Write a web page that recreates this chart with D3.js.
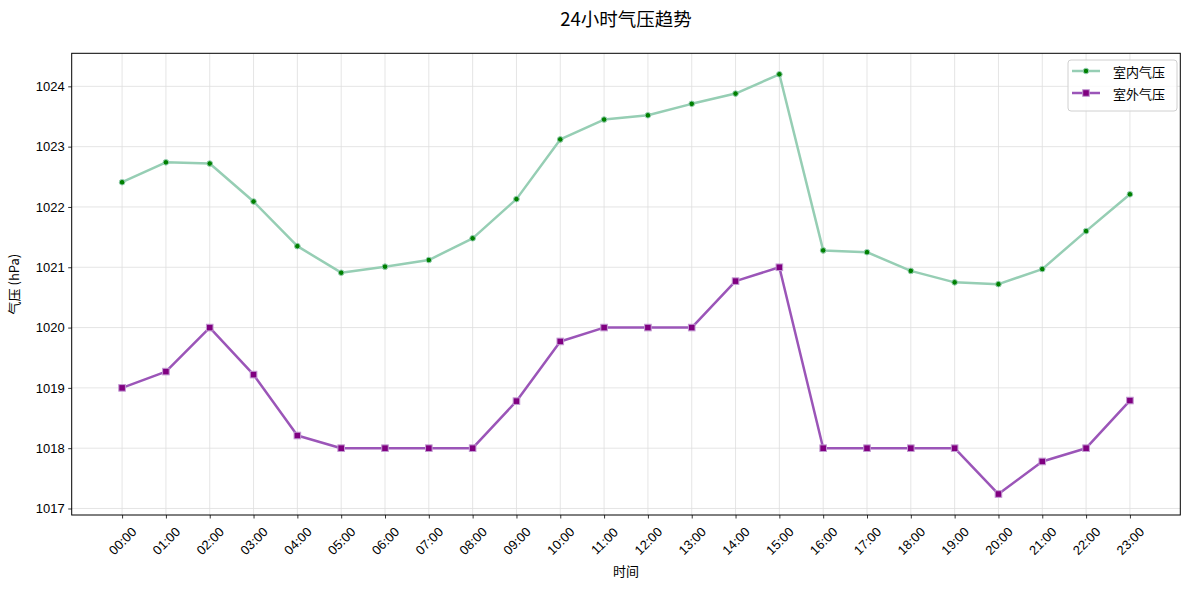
<!DOCTYPE html>
<html><head><meta charset="utf-8">
<script src="https://cdn.jsdelivr.net/npm/d3@7"></script>
<style>
body{margin:0;background:#fff;}
svg{display:block;font-family:"Noto Sans CJK SC","Noto Sans",sans-serif;}
</style></head>
<body><svg id="c" width="1189" height="590"></svg>
<script>
const hours = ["00:00","01:00","02:00","03:00","04:00","05:00","06:00","07:00","08:00","09:00","10:00","11:00","12:00","13:00","14:00","15:00","16:00","17:00","18:00","19:00","20:00","21:00","22:00","23:00"];
const indoor = [1022.41,1022.74,1022.72,1022.09,1021.35,1020.91,1021.01,1021.12,1021.48,1022.13,1023.12,1023.45,1023.52,1023.71,1023.88,1024.20,1021.28,1021.25,1020.94,1020.75,1020.72,1020.97,1021.60,1022.21];
const outdoor = [1019.00,1019.27,1020.00,1019.22,1018.21,1018.00,1018.00,1018.00,1018.00,1018.78,1019.77,1020.00,1020.00,1020.00,1020.77,1021.00,1018.00,1018.00,1018.00,1018.00,1017.24,1017.78,1018.00,1018.79];
const yTicks = [1017,1018,1019,1020,1021,1022,1023,1024];
const seriesNames = ["室内气压","室外气压"];
const title = "24小时气压趋势";
const xLabel = "时间";
const yLabel = "气压 (hPa)";

const svg = d3.select("#c");
const L = 71.7, R = 1180.3, T = 53.3, B = 515;
const n = hours.length;
const x = d3.scaleLinear().domain([-0.05*(n-1), (n-1)*1.05]).range([L, R]);
const all = indoor.concat(outdoor);
const lo = d3.min(all), hi = d3.max(all), pad = (hi-lo)*0.05;
const y = d3.scaleLinear().domain([lo-pad, hi+pad]).range([B, T]);

// grid
const g = svg.append("g");
g.selectAll(".gx").data(hours).join("line")
  .attr("x1",(d,i)=>x(i)).attr("x2",(d,i)=>x(i)).attr("y1",T).attr("y2",B)
  .attr("stroke","#dedede").attr("stroke-width",0.8);
g.selectAll(".gy").data(yTicks).join("line")
  .attr("x1",L).attr("x2",R).attr("y1",d=>y(d)).attr("y2",d=>y(d))
  .attr("stroke","#dedede").attr("stroke-width",0.8);

// axes
const xAxis = d3.axisBottom(x).tickValues(d3.range(n)).tickFormat(i=>hours[i]).tickSize(3.5).tickPadding(3);
const gx = svg.append("g").attr("transform",`translate(0,${B})`).call(xAxis);
gx.select(".domain").remove();
gx.selectAll(".tick line").attr("stroke","#000").attr("stroke-width",0.8);
gx.selectAll(".tick text").attr("font-size",13).attr("fill","#000")
  .attr("text-anchor","middle").attr("dy",null).attr("y",null)
  .attr("dominant-baseline","central")
  .attr("transform","translate(0,26) rotate(-45)");

const yAxis = d3.axisLeft(y).tickValues(yTicks).tickFormat(d3.format("d")).tickSize(3.5).tickPadding(3.5);
const gy = svg.append("g").attr("transform",`translate(${L},0)`).call(yAxis);
gy.select(".domain").remove();
gy.selectAll(".tick line").attr("stroke","#000").attr("stroke-width",0.8);
gy.selectAll(".tick text").attr("font-size",13).attr("fill","#000");

// lines
const line = d3.line().x((d,i)=>x(i)).y(d=>y(d));
svg.append("path").datum(indoor).attr("d",line).attr("fill","none")
  .attr("stroke","#96ceb4").attr("stroke-width",2.5).attr("stroke-linejoin","round");
svg.append("path").datum(outdoor).attr("d",line).attr("fill","none")
  .attr("stroke","#9b55b8").attr("stroke-width",2.5).attr("stroke-linejoin","round");

svg.append("g").selectAll("circle").data(indoor).join("circle")
  .attr("cx",(d,i)=>x(i)).attr("cy",d=>y(d)).attr("r",2.8)
  .attr("fill","#008000").attr("stroke","#96ceb4").attr("stroke-width",1);
svg.append("g").selectAll("rect").data(outdoor).join("rect")
  .attr("x",(d,i)=>x(i)-3.3).attr("y",d=>y(d)-3.3).attr("width",6.6).attr("height",6.6)
  .attr("fill","#800080").attr("stroke","#c39bd3").attr("stroke-width",1);

// frame
svg.append("rect").attr("x",L).attr("y",T).attr("width",R-L).attr("height",B-T)
  .attr("fill","none").attr("stroke","#000").attr("stroke-width",1);

// title & labels
svg.append("text").attr("x",(L+R)/2).attr("y",26).attr("text-anchor","middle")
  .attr("font-size",18.5).attr("fill","#000").text(title);
svg.append("text").attr("x",(L+R)/2).attr("y",576).attr("text-anchor","middle")
  .attr("font-size",13).attr("fill","#000").text(xLabel);
svg.append("text").attr("transform",`translate(19,${(T+B)/2}) rotate(-90)`).attr("text-anchor","middle")
  .attr("font-size",13).attr("fill","#000").text(yLabel);

// legend
const lg = svg.append("g");
lg.append("rect").attr("x",1068).attr("y",60).attr("width",109).attr("height",51).attr("rx",3)
  .attr("fill","#fff").attr("fill-opacity",0.8).attr("stroke","#d0d0d0").attr("stroke-width",1);
const ly = [71,93];
lg.append("line").attr("x1",1072).attr("x2",1100).attr("y1",ly[0]).attr("y2",ly[0]).attr("stroke","#96ceb4").attr("stroke-width",2.5);
lg.append("circle").attr("cx",1086).attr("cy",ly[0]).attr("r",2.8).attr("fill","#008000").attr("stroke","#96ceb4");
lg.append("line").attr("x1",1072).attr("x2",1100).attr("y1",ly[1]).attr("y2",ly[1]).attr("stroke","#9b55b8").attr("stroke-width",2.5);
lg.append("rect").attr("x",1086-3.3).attr("y",ly[1]-3.3).attr("width",6.6).attr("height",6.6).attr("fill","#800080").attr("stroke","#c39bd3");
seriesNames.forEach((s,i)=>{
  lg.append("text").attr("x",1113).attr("y",ly[i]).attr("dominant-baseline","central")
    .attr("font-size",13).attr("fill","#000").text(s);
});
</script></body></html>
